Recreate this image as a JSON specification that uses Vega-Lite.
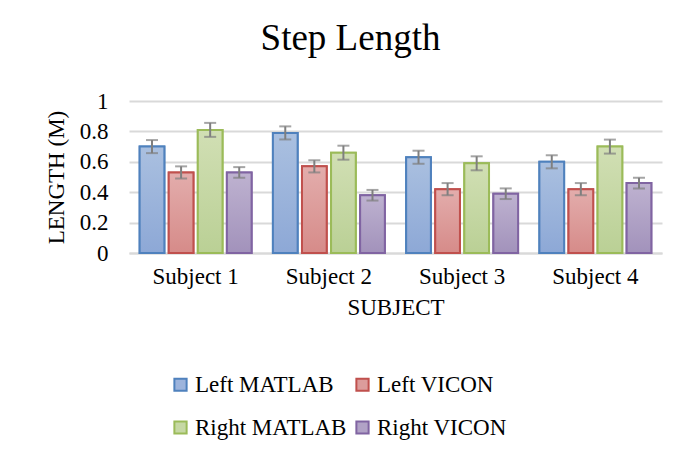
{
  "$schema": "https://vega.github.io/schema/vega-lite/v6.json",
  "width": 533,
  "height": 152,
  "autosize": {"type": "none"},
  "padding": {"left": 129, "top": 101, "right": 19, "bottom": 204},
  "background": "white",
  "config": {
    "font": "Liberation Serif",
    "view": {"stroke": null},
    "axis": {"labelFont": "Liberation Serif", "titleFont": "Liberation Serif", "labelColor": "#000000", "titleColor": "#000000", "titleFontWeight": "normal"}
  },
  "title": {
    "text": "Step Length",
    "font": "Liberation Serif",
    "fontSize": 37,
    "fontWeight": "normal",
    "color": "#000000",
    "anchor": "middle",
    "frame": "group",
    "dx": -45,
    "offset": 32
  },
  "data": {
    "values": [
      {"subject": "Subject 1", "series": "Left MATLAB", "value": 0.70, "lo": 0.657, "hi": 0.743},
      {"subject": "Subject 1", "series": "Left VICON", "value": 0.53, "lo": 0.49, "hi": 0.57},
      {"subject": "Subject 1", "series": "Right MATLAB", "value": 0.81, "lo": 0.764, "hi": 0.856},
      {"subject": "Subject 1", "series": "Right VICON", "value": 0.53, "lo": 0.495, "hi": 0.565},
      {"subject": "Subject 2", "series": "Left MATLAB", "value": 0.79, "lo": 0.747, "hi": 0.833},
      {"subject": "Subject 2", "series": "Left VICON", "value": 0.57, "lo": 0.53, "hi": 0.61},
      {"subject": "Subject 2", "series": "Right MATLAB", "value": 0.66, "lo": 0.614, "hi": 0.706},
      {"subject": "Subject 2", "series": "Right VICON", "value": 0.38, "lo": 0.345, "hi": 0.415},
      {"subject": "Subject 3", "series": "Left MATLAB", "value": 0.63, "lo": 0.587, "hi": 0.673},
      {"subject": "Subject 3", "series": "Left VICON", "value": 0.42, "lo": 0.38, "hi": 0.46},
      {"subject": "Subject 3", "series": "Right MATLAB", "value": 0.59, "lo": 0.544, "hi": 0.636},
      {"subject": "Subject 3", "series": "Right VICON", "value": 0.39, "lo": 0.355, "hi": 0.425},
      {"subject": "Subject 4", "series": "Left MATLAB", "value": 0.60, "lo": 0.557, "hi": 0.643},
      {"subject": "Subject 4", "series": "Left VICON", "value": 0.42, "lo": 0.38, "hi": 0.46},
      {"subject": "Subject 4", "series": "Right MATLAB", "value": 0.70, "lo": 0.654, "hi": 0.746},
      {"subject": "Subject 4", "series": "Right VICON", "value": 0.46, "lo": 0.425, "hi": 0.495}
    ]
  },
  "encoding": {
    "x": {
      "field": "subject",
      "type": "nominal",
      "scale": {"paddingInner": 0.16, "paddingOuter": 0.08},
      "axis": {
        "title": "SUBJECT",
        "labelAngle": 0,
        "labelFontSize": 23,
        "titleFontSize": 23,
        "labelPadding": 12,
        "titlePadding": 8,
        "ticks": false,
        "domainColor": "#D9D9D9",
        "domainWidth": 2
      }
    },
    "xOffset": {
      "field": "series",
      "type": "nominal",
      "scale": {"paddingInner": 0.15}
    },
    "y": {
      "field": "value",
      "type": "quantitative",
      "scale": {"domain": [0, 1]},
      "axis": {
        "title": "LENGTH (M)",
        "values": [0, 0.2, 0.4, 0.6, 0.8, 1],
        "format": "~g",
        "labelOverlap": false,
        "labelFontSize": 23,
        "titleFontSize": 23,
        "labelPadding": 21,
        "titleX": -61,
        "ticks": false,
        "domain": false,
        "gridColor": "#D9D9D9",
        "gridWidth": 2
      }
    }
  },
  "layer": [
    {
      "mark": {"type": "bar", "strokeWidth": 2},
      "encoding": {
        "fill": {
          "field": "series",
          "type": "nominal",
          "scale": {"range": ["#9DB4DC", "#DC9C9B", "#C6D8A4", "#B1A2C6"]},
          "legend": {
            "title": null,
            "orient": "none",
            "legendX": 40,
            "legendY": 272,
            "direction": "horizontal",
            "columns": 2,
            "labelFont": "Liberation Serif",
            "labelFontSize": 23,
            "labelColor": "#000000",
            "symbolType": "square",
            "symbolSize": 150,
            "symbolStrokeWidth": 2,
            "labelOffset": 3,
            "columnPadding": 4,
            "rowPadding": 19,
            "labelLimit": 300
          }
        },
        "stroke": {
          "field": "series",
          "type": "nominal",
          "scale": {"range": ["#4F81BD", "#C0504D", "#9BBB59", "#8064A2"]}
        }
      }
    },
    {
      "transform": [{"filter": "datum.series === 'Left MATLAB'"}],
      "mark": {"type": "bar", "strokeWidth": 2, "stroke": "#4F81BD",
        "fill": {"gradient": "linear", "x1": 0, "y1": 0, "x2": 0, "y2": 1,
          "stops": [{"offset": 0, "color": "#AAC0E0"}, {"offset": 1, "color": "#8DA8D6"}]}},
      "encoding": {}
    },
    {
      "transform": [{"filter": "datum.series === 'Left VICON'"}],
      "mark": {"type": "bar", "strokeWidth": 2, "stroke": "#C0504D",
        "fill": {"gradient": "linear", "x1": 0, "y1": 0, "x2": 0, "y2": 1,
          "stops": [{"offset": 0, "color": "#E3ADAC"}, {"offset": 1, "color": "#D68B89"}]}},
      "encoding": {}
    },
    {
      "transform": [{"filter": "datum.series === 'Right MATLAB'"}],
      "mark": {"type": "bar", "strokeWidth": 2, "stroke": "#9BBB59",
        "fill": {"gradient": "linear", "x1": 0, "y1": 0, "x2": 0, "y2": 1,
          "stops": [{"offset": 0, "color": "#D1DFB4"}, {"offset": 1, "color": "#BAD095"}]}},
      "encoding": {}
    },
    {
      "transform": [{"filter": "datum.series === 'Right VICON'"}],
      "mark": {"type": "bar", "strokeWidth": 2, "stroke": "#8064A2",
        "fill": {"gradient": "linear", "x1": 0, "y1": 0, "x2": 0, "y2": 1,
          "stops": [{"offset": 0, "color": "#BEB2D0"}, {"offset": 1, "color": "#A292BB"}]}},
      "encoding": {}
    },
    {
      "mark": {"type": "rule", "color": "#7F7F7F", "strokeWidth": 2},
      "encoding": {
        "y": {"field": "lo", "type": "quantitative"},
        "y2": {"field": "hi"}
      }
    },
    {
      "mark": {"type": "tick", "color": "#7F7F7F", "thickness": 2, "size": 12},
      "encoding": {"y": {"field": "lo", "type": "quantitative"}}
    },
    {
      "mark": {"type": "tick", "color": "#7F7F7F", "thickness": 2, "size": 12},
      "encoding": {"y": {"field": "hi", "type": "quantitative"}}
    }
  ]
}
